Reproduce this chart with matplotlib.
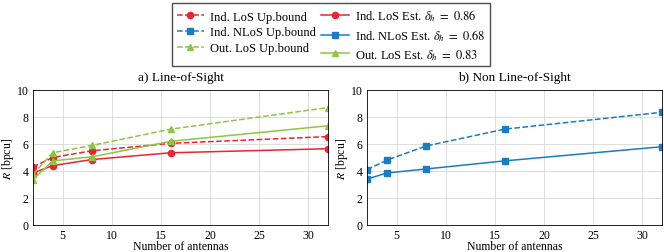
import matplotlib.pyplot as plt
import matplotlib.lines as mlines

plt.rcParams["font.family"] = "Liberation Serif"
plt.rcParams["mathtext.fontset"] = "stix"

# Dados
antenas = [2, 4, 8, 16, 32]

los_ind_up = [4.3, 5.0, 5.5, 6.05, 6.55]
los_ind_est = [3.85, 4.4, 4.85, 5.35, 5.65]
los_out_up = [3.75, 5.35, 5.9, 7.1, 8.7]
los_out_est = [3.35, 4.75, 5.05, 6.2, 7.35]

nlos_ind_up = [4.1, 4.8, 5.85, 7.1, 8.35]
nlos_ind_est = [3.4, 3.85, 4.15, 4.75, 5.8]

vermelho = "#ee2233"
azul = "#1a7dc4"
verde = "#8dc63f"

fig = plt.figure(figsize=(6.64, 2.53), dpi=100)
ax1 = fig.add_axes([33 / 664, 1 - 226 / 253, 295 / 664, 135 / 253])
ax2 = fig.add_axes([367 / 664, 1 - 226 / 253, 295 / 664, 135 / 253])

ax1.plot(antenas, los_ind_up, "--o", color=vermelho, ms=4.5, lw=1.1)
ax1.plot(antenas, los_ind_est, "-o", color=vermelho, ms=4.5, lw=1.1)
ax1.plot(antenas, los_out_up, "--^", color=verde, ms=4.5, lw=1.1)
ax1.plot(antenas, los_out_est, "-^", color=verde, ms=4.5, lw=1.1)

ax2.plot(antenas, nlos_ind_up, "--s", color=azul, ms=4, lw=1.1)
ax2.plot(antenas, nlos_ind_est, "-s", color=azul, ms=4, lw=1.1)

for ax, titulo in [(ax1, "a) Line-of-Sight"), (ax2, "b) Non Line-of-Sight")]:
    ax.set_xlim(2, 32)
    ax.set_ylim(0, 10)
    ax.set_xticks([5, 10, 15, 20, 25, 30])
    ax.set_yticks([0, 2, 4, 6, 8, 10])
    ax.grid(color="#d8d8d8", lw=0.6)
    ax.tick_params(direction="in", labelsize=8.5, length=0, pad=3)
    ax.set_xlabel("Number of antennas", fontsize=8.5, labelpad=-1)
    ax.set_ylabel(r"$R$ [bpcu]", fontsize=8.5, labelpad=1)
    ax.set_title(titulo, fontsize=9.5, pad=7)
    for s in ax.spines.values():
        s.set_linewidth(0.6)

# Legenda
h = [
    mlines.Line2D([], [], ls="--", marker="o", color=vermelho, ms=4.5, lw=1.1),
    mlines.Line2D([], [], ls="--", marker="s", color=azul, ms=4, lw=1.1),
    mlines.Line2D([], [], ls="--", marker="^", color=verde, ms=4.5, lw=1.1),
    mlines.Line2D([], [], ls="-", marker="o", color=vermelho, ms=4.5, lw=1.1),
    mlines.Line2D([], [], ls="-", marker="s", color=azul, ms=4, lw=1.1),
    mlines.Line2D([], [], ls="-", marker="^", color=verde, ms=4.5, lw=1.1),
]
rotulos = [
    "Ind. LoS Up.bound",
    "Ind. NLoS Up.bound",
    "Out. LoS Up.bound",
    r"Ind. LoS Est. $\delta_h\ =\ 0.86$",
    r"Ind. NLoS Est. $\delta_h\ =\ 0.68$",
    r"Out. LoS Est. $\delta_h\ =\ 0.83$",
]
fig.legend(h, rotulos, ncol=2, loc="upper center", bbox_to_anchor=(331 / 664, 1 + 2 / 253),
           fontsize=9, frameon=True, fancybox=False, edgecolor="#222222",
           handlelength=2.2, handletextpad=0.5, columnspacing=0.4,
           labelspacing=0.3, borderpad=0.35)

fig.savefig("out.png", dpi=100)
